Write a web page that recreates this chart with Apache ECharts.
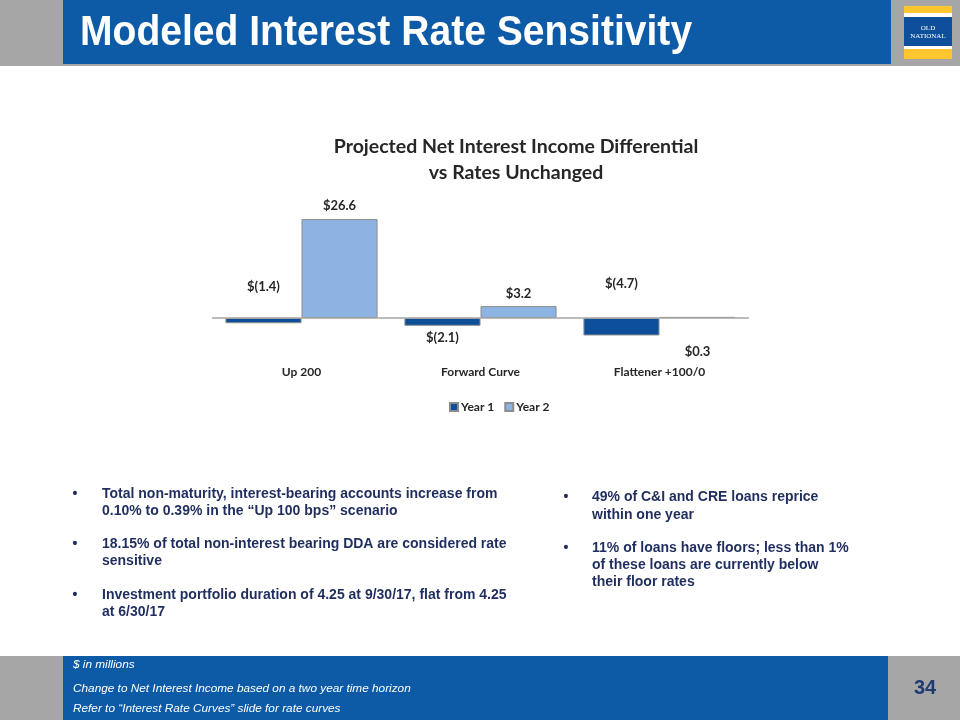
<!DOCTYPE html>
<html>
<head>
<meta charset="utf-8">
<script src="https://cdn.jsdelivr.net/npm/echarts@6/dist/echarts.min.js"></script>
<style>
  html, body { margin: 0; padding: 0; background: #ffffff; }
  #chart { width: 960px; height: 720px; }
</style>
</head>
<body>
<div id="chart"></div>
<script>
// ---- data ----
const categories = ['Up 200', 'Forward Curve', 'Flattener +100/0'];
const seriesNames = ['Year 1', 'Year 2'];
const year1 = [-1.4, -2.1, -4.7];
const year2 = [26.6, 3.2, 0.3];
const slideTitle = 'Modeled Interest Rate Sensitivity';
const chartTitleLines = ['Projected Net Interest Income Differential', 'vs Rates Unchanged'];
const leftBullets = [
  ['Total non-maturity, interest-bearing accounts increase from', '0.10% to 0.39% in the \u201cUp 100 bps\u201d scenario'],
  ['18.15% of total non-interest bearing DDA are considered rate', 'sensitive'],
  ['Investment portfolio duration of 4.25 at 9/30/17, flat from 4.25', 'at 6/30/17']
];
const rightBullets = [
  ['49% of C&I and CRE loans reprice', 'within one year'],
  ['11% of loans have floors; less than 1%', 'of these loans are currently below', 'their floor rates']
];
const footnotes = ['$ in millions', 'Change to Net Interest Income based on a two year time horizon', 'Refer to \u201cInterest Rate Curves\u201d slide for rate curves'];
const pageNumber = '34';

// ---- formatting ----
function money(v) {
  const s = Math.abs(v).toFixed(1);
  return v < 0 ? '$(' + s + ')' : '$' + s;
}

// label placement per bar (styling, matches the slide's odd label placement)
const y1LabelCfg = [
  { position: 'top', distance: 25 },
  { position: 'bottom', distance: 6 },
  { position: 'top', distance: 28 }
];
const y2LabelCfg = [
  { position: 'top', distance: 7 },
  { position: 'top', distance: 6 },
  { position: 'bottom', distance: 27 }
];

const labelFont = { fontFamily: 'Lato', fontWeight: 'bold', fontSize: 13, color: '#262626' };

function buildData(values, cfg) {
  return values.map((v, i) => ({
    value: v,
    label: Object.assign({ show: true, formatter: money(v) }, labelFont, cfg[i])
  }));
}

const BLUE = '#0D5AA7';
const GRAY = '#A6A6A6';
const NAVY = '#1F2D5F';

const graphics = [];
// header
graphics.push({ type: 'rect', shape: { x: 0, y: 0, width: 960, height: 66 }, style: { fill: GRAY }, silent: true });
graphics.push({ type: 'rect', shape: { x: 63, y: 0, width: 828, height: 64 }, style: { fill: BLUE }, silent: true });
graphics.push({ type: 'text', x: 80, y: 33, scaleX: 0.93, style: { text: slideTitle, fill: '#ffffff', font: 'bold 42px "Liberation Sans", Arial, sans-serif', textAlign: 'left', textVerticalAlign: 'middle' }, silent: true });
// logo
graphics.push({ type: 'rect', shape: { x: 904, y: 6, width: 48, height: 53 }, style: { fill: '#FFC62F' }, silent: true });
graphics.push({ type: 'rect', shape: { x: 904, y: 13, width: 48, height: 36 }, style: { fill: '#ffffff' }, silent: true });
graphics.push({ type: 'rect', shape: { x: 904, y: 17, width: 48, height: 29 }, style: { fill: '#0E4F9C' }, silent: true });
graphics.push({ type: 'text', x: 928, y: 28, style: { text: 'OLD', fill: '#ffffff', font: '7px "Liberation Serif", serif', textAlign: 'center', textVerticalAlign: 'middle' }, silent: true });
graphics.push({ type: 'text', x: 928, y: 36, style: { text: 'NATIONAL', fill: '#ffffff', font: '7px "Liberation Serif", serif', textAlign: 'center', textVerticalAlign: 'middle' }, silent: true });
// footer
graphics.push({ type: 'rect', shape: { x: 0, y: 656, width: 960, height: 64 }, style: { fill: GRAY }, silent: true });
graphics.push({ type: 'rect', shape: { x: 63, y: 656, width: 825, height: 64 }, style: { fill: BLUE }, silent: true });
const footY = [665, 689, 709];
footnotes.forEach((t, i) => {
  graphics.push({ type: 'text', x: 73, y: footY[i], style: { text: t, fill: '#ffffff', font: 'italic 11.8px "Liberation Sans", Arial, sans-serif', textAlign: 'left', textVerticalAlign: 'middle' }, silent: true });
});
graphics.push({ type: 'text', x: 925, y: 688, style: { text: pageNumber, fill: '#1F3A73', font: 'bold 20px "Liberation Sans", Arial, sans-serif', textAlign: 'center', textVerticalAlign: 'middle' }, silent: true });
// chart title
const titleY = [147, 173];
chartTitleLines.forEach((t, i) => {
  graphics.push({ type: 'text', x: 516, y: titleY[i], style: { text: t, fill: '#262626', font: 'bold 19.5px Lato, sans-serif', textAlign: 'center', textVerticalAlign: 'middle' }, silent: true });
});
// bullets
const bodyFont = 'bold 14px "Liberation Sans", Arial, sans-serif';
const leftY = [[494, 511], [544, 561], [595, 612]];
leftBullets.forEach((lines, b) => {
  graphics.push({ type: 'text', x: 75, y: leftY[b][0], style: { text: '\u2022', fill: NAVY, font: bodyFont, textAlign: 'center', textVerticalAlign: 'middle' }, silent: true });
  lines.forEach((t, j) => {
    graphics.push({ type: 'text', x: 102, y: leftY[b][j], style: { text: t, fill: NAVY, font: bodyFont, textAlign: 'left', textVerticalAlign: 'middle' }, silent: true });
  });
});
const rightY = [[497, 515], [548, 565, 582]];
rightBullets.forEach((lines, b) => {
  graphics.push({ type: 'text', x: 566, y: rightY[b][0], style: { text: '\u2022', fill: NAVY, font: bodyFont, textAlign: 'center', textVerticalAlign: 'middle' }, silent: true });
  lines.forEach((t, j) => {
    graphics.push({ type: 'text', x: 592, y: rightY[b][j], style: { text: t, fill: NAVY, font: bodyFont, textAlign: 'left', textVerticalAlign: 'middle' }, silent: true });
  });
});

const chart = echarts.init(document.getElementById('chart'), null, { renderer: 'canvas' });
chart.setOption({
  animation: false,
  backgroundColor: '#ffffff',
  graphic: graphics,
  grid: { left: 212, right: 211, top: 206.4, height: 148.8 },
  legend: {
    data: seriesNames,
    left: 444, top: 396,
    icon: 'rect', itemWidth: 8, itemHeight: 8, itemGap: 10,
    textStyle: { fontFamily: 'Lato', fontWeight: 'bold', fontSize: 12, color: '#262626', padding: [0, 0, 0, -2] }
  },
  xAxis: {
    type: 'category',
    data: categories,
    axisLine: { show: false, onZero: false },
    axisTick: { show: false },
    axisLabel: { margin: 11, fontFamily: 'Lato', fontWeight: 'bold', fontSize: 12, color: '#262626' }
  },
  yAxis: {
    type: 'value', min: -10, max: 30, interval: 10,
    show: false, splitLine: { show: false }
  },
  series: [
    {
      name: seriesNames[0], type: 'bar',
      data: buildData(year1, y1LabelCfg),
      barGap: '0%', barCategoryGap: '15%',
      itemStyle: { color: '#0E4F9C', borderColor: '#8C8C8C', borderWidth: 1 },
      markLine: {
        silent: true, symbol: 'none', label: { show: false },
        lineStyle: { color: '#A6A6A6', width: 1.5, type: 'solid' },
        data: [{ yAxis: 0 }]
      },
      z: 3
    },
    {
      name: seriesNames[1], type: 'bar',
      data: buildData(year2, y2LabelCfg),
      barGap: '0%', barCategoryGap: '15%',
      itemStyle: { color: '#8DB3E2', borderColor: '#8C8C8C', borderWidth: 1 },
      z: 3
    }
  ]
});
</script>
</body>
</html>
